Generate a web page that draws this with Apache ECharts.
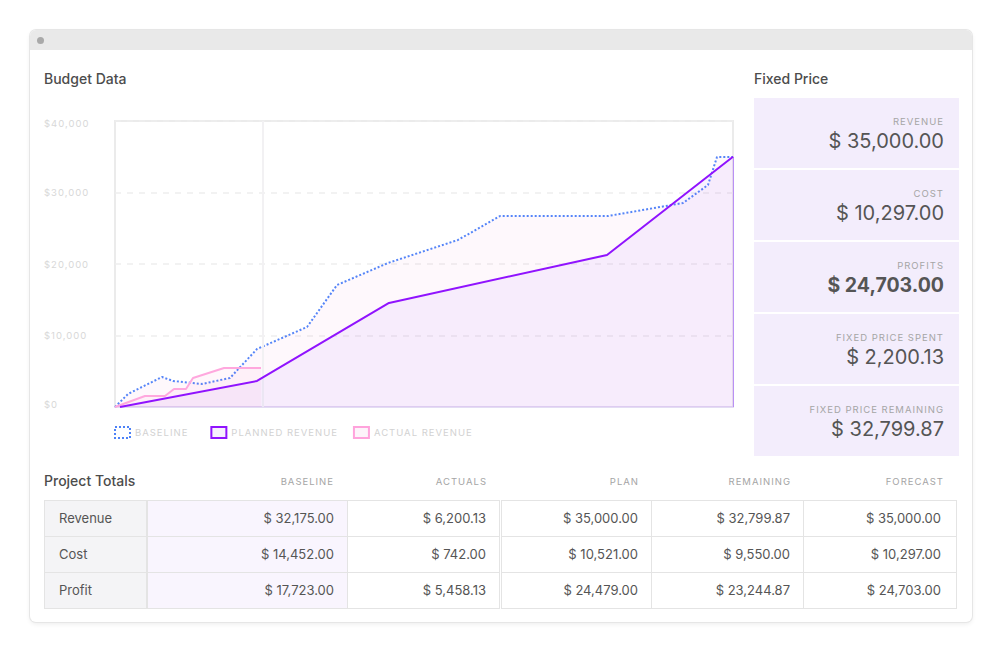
<!DOCTYPE html>
<html>
<head>
<meta charset="utf-8">
<style>
html, body { margin: 0; padding: 0; background: #fff; }
body { width: 1002px; height: 653px; position: relative; overflow: hidden; font-family: Inter, Roboto, sans-serif; color: #555; }
.card { position: absolute; left: 30px; top: 30px; width: 942px; height: 592px; background: #fff; border-radius: 6px; box-shadow: 0 0 0 1px #e6e6e6, 0 2px 5px rgba(0,0,0,.08); overflow: hidden; }
.bar { height: 20px; background: #e9e9e9; }
.dot { position: absolute; left: 7px; top: 7px; width: 7px; height: 7px; border-radius: 50%; background: #a9a9a9; }
.title { position: absolute; font-size: 14px; font-weight: 500; color: #4c4c4c; line-height: 18px; }
#chart { position: absolute; left: 30px; top: 100px; width: 720px; height: 350px; }
#chart text { letter-spacing: 1px; }
.panel { position: absolute; left: 754px; width: 205px; height: 70px; background: #f3edfc; text-align: right; }
.panel .lb { position: absolute; right: 15px; top: 18px; font-size: 9.5px; letter-spacing: 1px; color: #a5a5a5; line-height: 12px; }
.panel .val { position: absolute; right: 15px; top: 29px; font-size: 20px; line-height: 28px; color: #555; }
.panel.strong .val { font-weight: 700; font-size: 19.5px; }
.head { position: absolute; top: 476px; font-size: 9.5px; letter-spacing: 1px; color: #a5a5a5; line-height: 12px; text-align: right; }
table { position: absolute; left: 44px; top: 500px; width: 912px; height: 107px; border-collapse: collapse; table-layout: fixed; font-size: 13px; color: #555; }
td { border: 1px solid #e4e4e4; text-align: right; padding: 0 13px 1px 0; height: 34px; }
td.name { background: #f4f4f6; text-align: left; padding-left: 14px; border-right: 2px solid #e4e4e4; }
td.base { background: #f9f5fe; }
td.plan { border-left: 3px double #e4e4e4; }
td:last-child { padding-right: 15px; }
</style>
</head>
<body>
<div class="card"><div class="bar"></div><div class="dot"></div></div>
<div class="title" style="left:44px;top:70px">Budget Data</div>
<div class="title" style="left:754px;top:70px">Fixed Price</div>
<div class="title" style="left:44px;top:472px">Project Totals</div>
<div id="chart"></div>
<div id="panels"></div>
<div id="heads"></div>
<table id="totals">
  <colgroup><col style="width:102px"><col style="width:201px"><col style="width:153px"><col style="width:151px"><col style="width:152px"><col style="width:153px"></colgroup>
  <tbody></tbody>
</table>
<script src="https://cdn.jsdelivr.net/npm/echarts@6/dist/echarts.min.js"></script>
<script>
// chart data, x is days since project start
var baselineX = [0, 13, 47, 58, 87, 115, 142, 192, 222, 273, 343, 385, 493, 568, 593, 602, 618];
var baselineY = [0, 1820, 4200, 3640, 3220, 4060, 8110, 11190, 17060, 20140, 23360, 26710, 26710, 28530, 31050, 34970, 34970];
var plannedX = [5, 142, 274, 492, 618];
var plannedY = [0, 3640, 14550, 21260, 35000];
var actualX = [0, 30, 50, 59, 71, 78, 109, 146];
var actualY = [0, 1540, 1540, 2520, 2520, 4060, 5460, 5460];
var todayX = 148;
var yTicks = [0, 10000, 20000, 30000, 40000];

// side panels
var panelLabels = ['REVENUE', 'COST', 'PROFITS', 'FIXED PRICE SPENT', 'FIXED PRICE REMAINING'];
var panelValues = ['$ 35,000.00', '$ 10,297.00', '$ 24,703.00', '$ 2,200.13', '$ 32,799.87'];

// totals table
var colHeads = ['BASELINE', 'ACTUALS', 'PLAN', 'REMAINING', 'FORECAST'];
var colHeadRight = [334, 487, 639, 791, 944];
var rowNames = ['Revenue', 'Cost', 'Profit'];
var revenueRow = ['$ 32,175.00', '$ 6,200.13', '$ 35,000.00', '$ 32,799.87', '$ 35,000.00'];
var costRow = ['$ 14,452.00', '$ 742.00', '$ 10,521.00', '$ 9,550.00', '$ 10,297.00'];
var profitRow = ['$ 17,723.00', '$ 5,458.13', '$ 24,479.00', '$ 23,244.87', '$ 24,703.00'];

function zip(xs, ys) {
  return xs.map(function (x, i) { return [x, ys[i]]; });
}

var chart = echarts.init(document.getElementById('chart'), null, { renderer: 'svg' });
chart.setOption({
  animation: false,
  textStyle: { fontFamily: 'Inter, Roboto, sans-serif' },
  grid: { left: 85, top: 21, width: 618, height: 286, show: true, borderColor: '#ebebeb', borderWidth: 2, backgroundColor: 'transparent' },
  legend: {
    left: 84, top: 326, padding: 0, itemWidth: 15, itemHeight: 11, itemGap: 30,
    textStyle: { color: '#d2d2d2', fontSize: 9.5, padding: [1, 0, 0, 0] },
    data: [
      { name: 'BASELINE', icon: 'rect', itemStyle: { color: 'transparent', borderColor: '#4d82f7', borderWidth: 2, borderType: 'dotted' } },
      { name: 'PLANNED REVENUE', icon: 'rect', itemStyle: { color: '#f7f0fd', borderColor: '#9013fe', borderWidth: 2 } },
      { name: 'ACTUAL REVENUE', icon: 'rect', itemStyle: { color: '#fdf3fa', borderColor: '#ffa3dc', borderWidth: 2 } }
    ]
  },
  xAxis: {
    type: 'value', min: 0, max: 618,
    axisLine: { show: true, lineStyle: { color: '#e3dcf3', width: 2 } },
    axisTick: { show: false }, axisLabel: { show: false }, splitLine: { show: false }
  },
  yAxis: {
    type: 'value', min: yTicks[0], max: yTicks[4], interval: yTicks[1],
    axisLine: { show: false }, axisTick: { show: false },
    axisLabel: {
      color: '#d8d8d8', fontSize: 9.5, align: 'left', margin: 71, lineHeight: 5,
      verticalAlignMinLabel: 'bottom', verticalAlignMaxLabel: 'top',
      formatter: function (v) { return '$' + v.toLocaleString('en-US'); }
    },
    splitLine: { show: true, lineStyle: { color: '#eeeeee', type: [6, 6], width: 1.5 } }
  },
  series: [
    {
      name: 'BASELINE', type: 'line', data: zip(baselineX, baselineY), symbol: 'none', z: 3,
      lineStyle: { color: '#5585f8', width: 2, type: [2, 2] },
      areaStyle: { color: 'rgba(230,100,190,0.07)' },
      markLine: {
        silent: true, symbol: 'none', label: { show: false },
        lineStyle: { color: '#f2f1f3', width: 2, type: 'solid' },
        data: [{ xAxis: todayX }]
      }
    },
    {
      name: 'ACTUAL REVENUE', type: 'line', data: zip(actualX, actualY), symbol: 'none', z: 4,
      lineStyle: { color: '#ffa8de', width: 2 },
      areaStyle: { color: 'rgba(255,80,170,0.06)' }
    },
    {
      name: 'PLANNED REVENUE', type: 'line', data: zip(plannedX, plannedY), symbol: 'none', z: 5,
      lineStyle: { color: '#9013fe', width: 2 },
      areaStyle: { color: 'rgba(160,80,250,0.1)' },
      markLine: {
        silent: true, symbol: 'none', label: { show: false },
        lineStyle: { color: 'rgba(144,70,254,0.55)', width: 1, type: 'solid' },
        data: [[{ coord: [618, 0] }, { coord: [618, 35000] }]]
      }
    }
  ]
});

// panels
var panelHtml = '';
panelLabels.forEach(function (lb, i) {
  panelHtml += '<div class="panel' + (lb === 'PROFITS' ? ' strong' : '') + '" style="top:' + (98 + i * 72) + 'px">' +
    '<div class="lb">' + lb + '</div><div class="val">' + panelValues[i] + '</div></div>';
});
document.getElementById('panels').innerHTML = panelHtml;

// column heads
var headHtml = '';
colHeads.forEach(function (h, i) {
  headHtml += '<div class="head" style="right:' + (1002 - colHeadRight[i]) + 'px">' + h + '</div>';
});
document.getElementById('heads').innerHTML = headHtml;

// table rows
var rows = [revenueRow, costRow, profitRow];
var rowHtml = '';
rows.forEach(function (row, r) {
  rowHtml += '<tr><td class="name">' + rowNames[r] + '</td>';
  row.forEach(function (v, c) {
    rowHtml += '<td class="' + (c === 0 ? 'base' : c === 2 ? 'plan' : '') + '">' + v + '</td>';
  });
  rowHtml += '</tr>';
});
document.querySelector('#totals tbody').innerHTML = rowHtml;
</script>
</body>
</html>
